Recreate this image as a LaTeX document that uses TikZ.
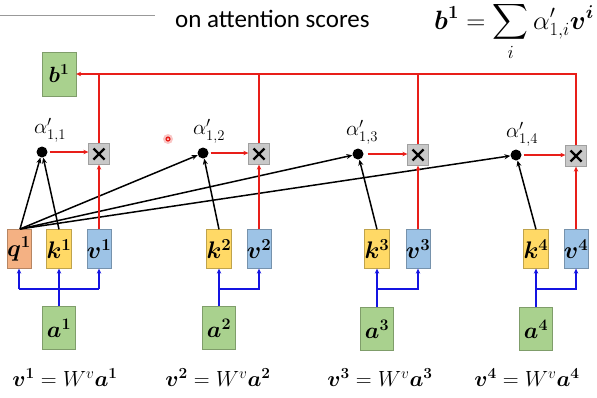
\RequirePackage{fix-cm}
\documentclass[tikz,border=0pt]{standalone}
\usepackage{fontspec}
\usepackage{amsmath,bm}
\newfontfamily\carl{Carlito}
\usetikzlibrary{arrows.meta}
\definecolor{qcol}{HTML}{F4B183}
\definecolor{kcol}{HTML}{FFD966}
\definecolor{vcol}{HTML}{9DC3E6}
\definecolor{gcol}{HTML}{A9D18E}
\definecolor{xcol}{HTML}{C8C8C8}
\definecolor{rline}{RGB}{232,30,25}
\definecolor{bline}{RGB}{20,20,225}
\begin{document}
\begin{tikzpicture}[x=1pt,y=-1pt,
  vecbox/.style={draw=#1!75!black, fill=#1, minimum width=22pt, minimum height=39pt, inner sep=0pt, line width=0.3pt, font=\fontsize{24}{26}\selectfont},
  abox/.style={draw=gcol!75!black, fill=gcol, minimum width=33pt, minimum height=43pt, inner sep=0pt, line width=0.3pt, font=\fontsize{23}{25}\selectfont},
  xbox/.style={draw=xcol!80!black, fill=xcol, minimum width=21pt, minimum height=21pt, inner sep=0pt, line width=0.3pt},
  xmark/.style={draw=black, line width=2.3pt},
  dot/.style={circle, fill=black, minimum size=11pt, inner sep=0pt},
  alab/.style={font=\fontsize{21}{23}\selectfont, inner sep=0pt},
  eq/.style={font=\fontsize{22}{24}\selectfont, inner sep=0pt},
  redl/.style={draw=rline, line width=1.4pt},
  redarr/.style={redl, -{Stealth[length=5pt,width=4.5pt]}},
  blkarr/.style={draw=black, line width=1.5pt, -{Stealth[length=6pt,width=5pt]}},
  bluel/.style={draw=bline, line width=1.4pt},
  bluearr/.style={bluel, -{Stealth[length=5pt,width=4.5pt]}}]
\useasboundingbox (0,0) rectangle (597,397);
% header fragments
\draw[gray!80, line width=0.8pt] (0,15) -- (155,15);
\node[font=\carl\fontsize{25}{27}\selectfont, anchor=base west, inner sep=0pt] (hdr) at (175,27) {on attention scores};
\node[font=\fontsize{26.5}{28}\selectfont, anchor=base west, inner sep=0pt] (formula) at (434,29) {$\displaystyle \bm{b^1} = \sum_i \alpha'_{1,i}\bm{v^i}$};
% output
\node[abox, minimum width=34pt, minimum height=44pt, font=\fontsize{22}{24}\selectfont] (b1) at (59,74) {$\bm{b^1}$};
% q k v boxes
\node[vecbox=qcol] (q1) at (19,249) {$\bm{q^1}$};
\node[vecbox=kcol] (k1) at (59,249) {$\bm{k^1}$};
\node[vecbox=vcol] (v1) at (99,249) {$\bm{v^1}$};
\node[vecbox=kcol] (k2) at (219,249) {$\bm{k^2}$};
\node[vecbox=vcol] (v2) at (259,249) {$\bm{v^2}$};
\node[vecbox=kcol] (k3) at (377,249) {$\bm{k^3}$};
\node[vecbox=vcol] (v3) at (418,249) {$\bm{v^3}$};
\node[vecbox=kcol] (k4) at (536,249) {$\bm{k^4}$};
\node[vecbox=vcol] (v4) at (576,249) {$\bm{v^4}$};
% inputs
\node[abox] (a1) at (59,328) {$\bm{a^1}$};
\node[abox] (a2) at (219,328) {$\bm{a^2}$};
\node[abox] (a3) at (377,329) {$\bm{a^3}$};
\node[abox] (a4) at (536,329) {$\bm{a^4}$};
% multiply boxes
\node[xbox] (x1) at (99,154) {};
\node[xbox] (x2) at (259,154) {};
\node[xbox] (x3) at (418,155) {};
\node[xbox] (x4) at (576,156) {};
\foreach \n in {x1,x2,x3,x4}{
  \draw[xmark] ([shift={(-5.5,-5.5)}]\n.center) -- ([shift={(5.5,5.5)}]\n.center);
  \draw[xmark] ([shift={(-5.5,5.5)}]\n.center) -- ([shift={(5.5,-5.5)}]\n.center);
}
% attention dots
\node[dot] (d1) at (42,152) {};
\node[dot] (d2) at (203,153) {};
\node[dot] (d3) at (358,154) {};
\node[dot] (d4) at (516,155) {};
\node[alab] (l1) at (50,130) {$\alpha'_{1,1}$};
\node[alab] (l2) at (209,131) {$\alpha'_{1,2}$};
\node[alab] (l3) at (362,132) {$\alpha'_{1,3}$};
\node[alab] (l4) at (522,134) {$\alpha'_{1,4}$};
% pointer mark
\fill[rline!25] (168,139) circle (5pt);
\fill[rline] (168,139) circle (2.6pt);
\fill[white] (168,139) circle (1pt);
% black arrows
\coordinate (qt) at (20,229);
\draw[blkarr] (qt) -- (d1);
\draw[blkarr] (qt) -- (d2);
\draw[blkarr] (qt) -- (d3);
\draw[blkarr] (qt) -- (d4);
\draw[blkarr] (k1.north) -- (d1);
\draw[blkarr] (k2.north) -- (d2);
\draw[blkarr] (k3.north) -- (d3);
\draw[blkarr] (k4.north) -- (d4);
% red arrows dot -> x
\draw[redarr] (d1.east) ++(2,0) -- (x1.west |- d1.east);
\draw[redarr] (d2.east) ++(2,0) -- (x2.west |- d2.east);
\draw[redarr] (d3.east) ++(4,0) -- (x3.west |- d3.east);
\draw[redarr] (d4.east) ++(2,0) -- (x4.west |- d4.east);
% red arrows v -> x
\draw[redarr] (v1.north) -- (x1.south);
\draw[redarr] (v2.north) -- (x2.south);
\draw[redarr] (v3.north) -- (x3.south);
\draw[redarr] (v4.north) -- (x4.south);
% red sum line
\draw[redarr] (x4.north) |- (b1.east);
\draw[redl] (x1.north) -- (x1.north |- b1.east);
\draw[redl] (x2.north) -- (x2.north |- b1.east);
\draw[redl] (x3.north) -- (x3.north |- b1.east);
% blue input lines
\coordinate (hj) at (0,289);
\draw[bluearr] (a1.north) -- (k1.south);
\draw[bluel] (hj -| q1) -- (hj -| v1);
\draw[bluearr] (hj -| q1) -- (q1.south);
\draw[bluearr] (hj -| v1) -- (v1.south);
\draw[bluearr] (a2.north) -- (k2.south);
\draw[bluearr] (hj -| a2) -| (v2.south);
\draw[bluearr] (a3.north) -- (k3.south);
\draw[bluearr] (hj -| a3) -| (v3.south);
\draw[bluearr] (a4.north) -- (k4.south);
\draw[bluearr] (hj -| a4) -| (v4.south);
% equations
\node[eq] (e1) at (65,378) {$\bm{v^1} = W^v\bm{a^1}$};
\node[eq] (e2) at (218,378) {$\bm{v^2} = W^v\bm{a^2}$};
\node[eq] (e3) at (380,378) {$\bm{v^3} = W^v\bm{a^3}$};
\node[eq] (e4) at (527,378) {$\bm{v^4} = W^v\bm{a^4}$};
\end{tikzpicture}
\end{document}
